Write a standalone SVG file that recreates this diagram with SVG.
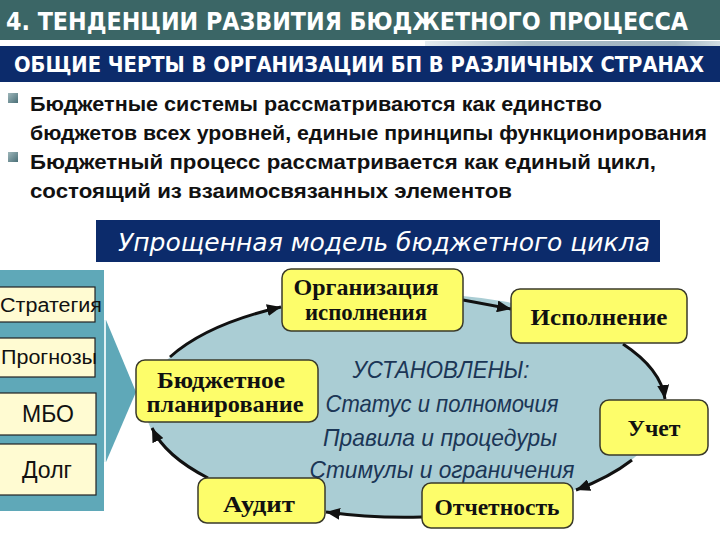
<svg xmlns="http://www.w3.org/2000/svg" width="720" height="540" viewBox="0 0 720 540">
<defs>
<linearGradient id="strip" x1="0" y1="0" x2="1" y2="0">
<stop offset="0" stop-color="#e4ecf0"/>
<stop offset="0.35" stop-color="#a9bcc7"/>
<stop offset="0.85" stop-color="#a3b6c2"/>
<stop offset="1" stop-color="#d0dde4"/>
</linearGradient>
<linearGradient id="bul" x1="0" y1="0" x2="1" y2="1">
<stop offset="0" stop-color="#9fb7bb"/>
<stop offset="1" stop-color="#4a6f77"/>
</linearGradient>
<marker id="ah" viewBox="0 0 14 12" refX="14" refY="6" markerWidth="14" markerHeight="12" markerUnits="userSpaceOnUse" orient="auto">
<path d="M0,0 L14,6 L0,12 z" fill="#111"/>
</marker>
<style>
.hdr{font-family:"DejaVu Sans Condensed","DejaVu Sans","Liberation Sans",sans-serif;font-weight:bold;fill:#fff;font-stretch:condensed}
.bt{font-family:"Liberation Sans",Arial,sans-serif;font-weight:bold;font-size:21px;fill:#111}
.ban{font-family:"DejaVu Sans","Liberation Sans",sans-serif;font-style:italic;font-size:25px;fill:#fff}
.lb{fill:#fffbd2;stroke:#222;stroke-width:1.2}
.lt{font-family:"Liberation Sans",Arial,sans-serif;fill:#111;text-anchor:middle}
.yb{fill:#fdfd6a;stroke:#3a3a2a;stroke-width:1.5}
.yt{font-family:"Liberation Serif","Times New Roman",serif;font-weight:bold;font-size:24px;fill:#111;text-anchor:middle}
.it{font-family:"Liberation Sans",Arial,sans-serif;font-style:italic;font-size:24px;fill:#1b3656;text-anchor:middle}
.cn{fill:none;stroke:#111;stroke-width:3;marker-end:url(#ah)}
</style>
</defs>
<rect width="720" height="540" fill="#fff"/>
<!-- header -->
<rect x="0" y="0" width="720" height="40" fill="#3b6666"/>
<rect x="425" y="41" width="295" height="5" fill="url(#strip)"/>
<rect x="0" y="46" width="720" height="36" fill="#0c2b6b"/>
<text class="hdr" x="6" y="30" font-size="25" textLength="682" lengthAdjust="spacingAndGlyphs">4. ТЕНДЕНЦИИ РАЗВИТИЯ БЮДЖЕТНОГО ПРОЦЕССА</text>
<text class="hdr" x="14" y="72" font-size="21" textLength="690" lengthAdjust="spacingAndGlyphs">ОБЩИЕ ЧЕРТЫ В ОРГАНИЗАЦИИ БП В РАЗЛИЧНЫХ СТРАНАХ</text>
<!-- bullets -->
<rect x="8" y="93" width="10" height="10" fill="url(#bul)"/>
<rect x="8" y="152" width="10" height="10" fill="url(#bul)"/>
<text class="bt" x="30" y="111" textLength="572" lengthAdjust="spacingAndGlyphs">Бюджетные системы рассматриваются как единство</text>
<text class="bt" x="30" y="140" textLength="677" lengthAdjust="spacingAndGlyphs">бюджетов всех уровней, единые принципы функционирования</text>
<text class="bt" x="30" y="169" textLength="626" lengthAdjust="spacingAndGlyphs">Бюджетный процесс рассматривается как единый цикл,</text>
<text class="bt" x="30" y="198" textLength="482" lengthAdjust="spacingAndGlyphs">состоящий из взаимосвязанных элементов</text>
<!-- banner -->
<rect x="96" y="220" width="564" height="42" fill="#0c2b6b"/>
<text class="ban" x="118" y="251" textLength="532" lengthAdjust="spacingAndGlyphs">Упрощенная модель бюджетного цикла</text>
<!-- left panel -->
<g id="panel">
<rect x="0" y="270" width="104" height="241" fill="#5fa8b8"/>
<path d="M106,320 L136,392 L106,462 z" fill="#5fa8b8"/>
<line x1="105" y1="320" x2="105" y2="462" stroke="#d6ecf0" stroke-width="1.5"/>
</g>
<g id="strategy"><rect class="lb" x="-2" y="287" width="97" height="35"/><text class="lt" x="51" y="312" font-size="20" textLength="102" lengthAdjust="spacingAndGlyphs">Стратегия</text></g>
<g id="forecasts"><rect class="lb" x="-2" y="338" width="97" height="39"/><text class="lt" x="49" y="364" font-size="20" textLength="96" lengthAdjust="spacingAndGlyphs">Прогнозы</text></g>
<g id="mbo"><rect class="lb" x="-2" y="393" width="98" height="42"/><text class="lt" x="48" y="422" font-size="23">МБО</text></g>
<g id="debt"><rect class="lb" x="-2" y="444" width="98" height="51"/><text class="lt" x="47" y="478" font-size="23">Долг</text></g>
<!-- ellipse -->
<ellipse cx="405" cy="405" rx="260" ry="112" fill="#aacdd4"/>
<g id="center-text">
<text class="it" x="441" y="378" textLength="177" lengthAdjust="spacingAndGlyphs">УСТАНОВЛЕНЫ:</text>
<text class="it" x="442" y="412" textLength="233" lengthAdjust="spacingAndGlyphs">Статус и полномочия</text>
<text class="it" x="440" y="446" textLength="234" lengthAdjust="spacingAndGlyphs">Правила и процедуры</text>
<text class="it" x="442" y="478" textLength="265" lengthAdjust="spacingAndGlyphs">Стимулы и ограничения</text>
</g>
<!-- connectors -->
<g id="connectors">
<path class="cn" d="M170,357 A260,112 0 0 1 281,307"/>
<path class="cn" d="M463,300 L511,309"/>
<path class="cn" d="M623,344 A260,112 0 0 1 665,399"/>
<path class="cn" d="M632,460 A260,112 0 0 1 576,490"/>
<path class="cn" d="M422,517 A260,112 0 0 1 326,512"/>
<path class="cn" d="M208,478 A260,112 0 0 1 152,428"/>
</g>
<!-- nodes -->
<g id="org"><rect class="yb" x="282" y="269" width="181" height="62" rx="9"/><text class="yt" x="366" y="295" textLength="145" lengthAdjust="spacingAndGlyphs">Организация</text><text class="yt" x="366" y="320" textLength="122" lengthAdjust="spacingAndGlyphs">исполнения</text></g>
<g id="exec"><rect class="yb" x="511" y="289" width="176" height="54" rx="9"/><text class="yt" x="599" y="325" textLength="137" lengthAdjust="spacingAndGlyphs">Исполнение</text></g>
<g id="plan"><rect class="yb" x="136" y="360" width="182" height="62" rx="9"/><text class="yt" x="221" y="388" textLength="128" lengthAdjust="spacingAndGlyphs">Бюджетное</text><text class="yt" x="225" y="412" textLength="157" lengthAdjust="spacingAndGlyphs">планирование</text></g>
<g id="acc"><rect class="yb" x="600" y="400" width="108" height="55" rx="9"/><text class="yt" x="654" y="436" textLength="53" lengthAdjust="spacingAndGlyphs">Учет</text></g>
<g id="report"><rect class="yb" x="422" y="483" width="151" height="45" rx="9"/><text class="yt" x="497" y="515" textLength="125" lengthAdjust="spacingAndGlyphs">Отчетность</text></g>
<g id="audit"><rect class="yb" x="198" y="478" width="127" height="45" rx="9"/><text class="yt" x="259" y="512" textLength="72" lengthAdjust="spacingAndGlyphs">Аудит</text></g>
</svg>
